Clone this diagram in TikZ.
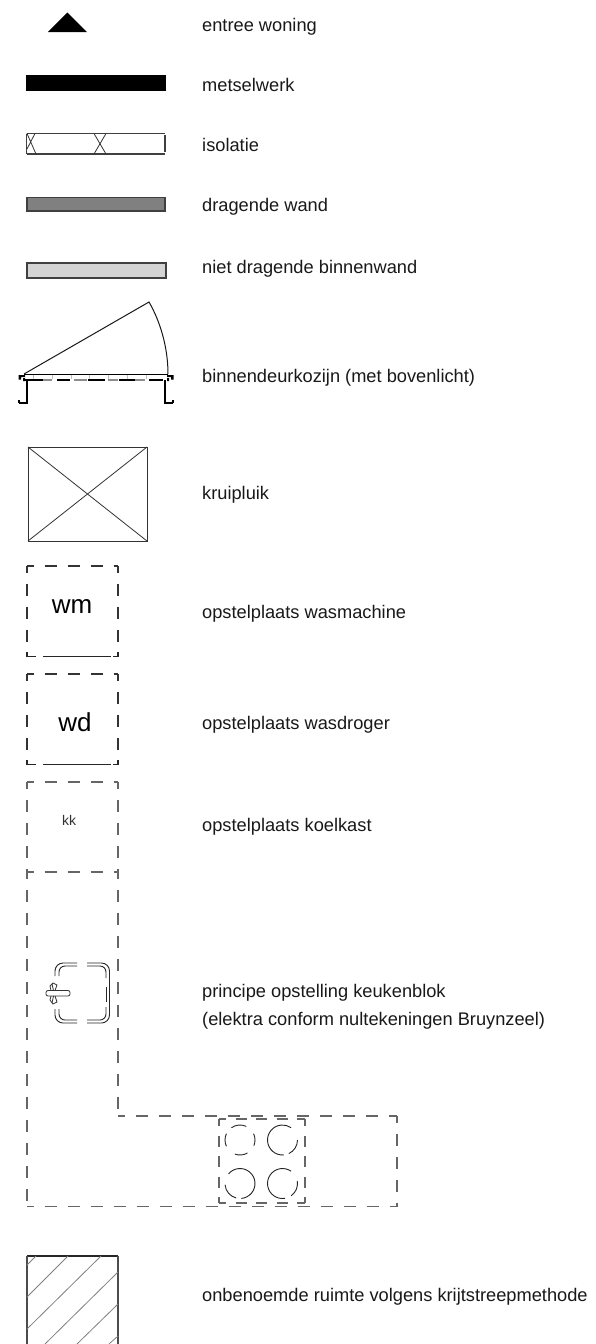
\documentclass[tikz,border=0pt]{standalone}
\usepackage{fontspec}
\setmainfont{Liberation Sans}
\tikzset{
  lbl/.style={anchor=base west,inner sep=0pt,font=\fontsize{18.25}{20}\selectfont,text=black!90},
  wall/.style={draw=black!75,line width=1.1pt},
  dsh/.style={draw=black!60,line width=1.2pt,dash pattern=on 12.5pt off 10.5pt,dash phase=5.5pt},
  dshdark/.style={draw=black!80,line width=1.2pt,dash pattern=on 12.5pt off 10.5pt,dash phase=5.5pt},
  hobdsh/.style={draw=black!60,line width=1.2pt,dash pattern=on 11pt off 9.5pt,dash phase=4pt},
  thin/.style={draw=black!80,line width=.8pt},
  sinkline/.style={draw=black!85,line width=.9pt,rounded corners=8pt},
  ring/.style={draw=black!85,line width=.9pt},
  hatch/.style={draw=black!50,line width=.8pt},
}
\begin{document}
\begin{tikzpicture}[x=1pt,y=-1pt]
\useasboundingbox (0,0) rectangle (595,1344);
\fill[white] (0,0) rectangle (595,1344);
% labels
\node[lbl] (t1) at (202,31) {entree woning};
\node[lbl] (t2) at (202,91) {metselwerk};
\node[lbl] (t3) at (202,151) {isolatie};
\node[lbl] (t4) at (202,211) {dragende wand};
\node[lbl] (t5) at (202,273) {niet dragende binnenwand};
\node[lbl] (t6) at (202,382) {binnendeurkozijn (met bovenlicht)};
\node[lbl] (t7) at (202,499) {kruipluik};
\node[lbl] (t8) at (202,618) {opstelplaats wasmachine};
\node[lbl] (t9) at (202,729) {opstelplaats wasdroger};
\node[lbl] (t10) at (202,831) {opstelplaats koelkast};
\node[lbl] (t11) at (202,997) {principe opstelling keukenblok};
\node[lbl] (t12) at (202,1025) {(elektra conform nultekeningen Bruynzeel)};
\node[lbl] (t13) at (202,1301) {onbenoemde ruimte volgens krijtstreepmethode};
% symbols
\fill[black] (48,32) -- (67.3,12.5) -- (87,32) -- cycle;
\fill[black] (26,75) rectangle (166,91);
\draw[wall] (26.5,133.5) -- (165,133.5) (26.5,154) -- (165,154) (26.5,133.5) -- (26.5,154) (165,135) -- (165,152);
\draw[thin] (94,154) -- (106,133.5) (94,133.5) -- (106,154) (27,133.5) -- (36,154) (35,133.5) -- (27,149);
\draw[wall,fill=black!50] (27,197.5) rectangle (165,211);
\draw[wall,fill=black!17] (27,263) rectangle (166,278);
% door
\draw[line width=1pt,draw=black!90] (24,374) -- (149,302) .. controls (160,321) and (168,347) .. (168,374);
\draw[line width=1pt,draw=black] (24,374) -- (168,374);
\foreach \x in {33,52,71,89,108,127,146} \draw[draw=black!25,line width=.6pt] (\x,375) -- (\x,379);
\draw[draw=black,line width=1.5pt] (25,380) -- (43,380) (57,380) -- (70,380) (88,380) -- (105,380) (119,380) -- (135,380) (149,380) -- (163,380);
\draw[draw=black!45,line width=1.5pt] (43,380) -- (52,380) (74,380) -- (87,380) (108,380) -- (118,380) (135,380) -- (145,380);
\draw[line width=1.3pt] (27,380) -- (27,403) -- (19,403) (19,400) -- (19,403);
\draw[line width=1.3pt] (165,380) -- (165,403) -- (173,403) (173,400) -- (173,403);
\fill[black] (18.5,375) rectangle (25,377) (18.5,375) rectangle (21,379.5) (23,378) rectangle (25,381);
\fill[black] (167,375) rectangle (173.5,377) (171,375) rectangle (173.5,379.5) (167,378) rectangle (169,381);
% hatch
\draw[thin] (28,447) rectangle (147,541);
\draw[thin] (28,447) -- (147,541) (28,541) -- (147,447);
% wm wd kk
\draw[dshdark] (27,566) -- (118,566) (27,566) -- (27,656) (118,566) -- (118,656);
\draw[line width=1.3pt,black!85] (27,652) -- (27,656.5) -- (36,656.5) (43,656.5) -- (111,656.5) (113,656.5) -- (118,656.5) -- (118,652);
\node[inner sep=0pt,font=\fontsize{26}{28}\selectfont] (wm) at (72,606) {wm};
\draw[dshdark] (27,674) -- (118,674) (27,674) -- (27,764) (118,674) -- (118,764);
\draw[line width=1.3pt,black!85] (27,760) -- (27,764.5) -- (36,764.5) (43,764.5) -- (111,764.5) (113,764.5) -- (118,764.5) -- (118,760);
\node[inner sep=0pt,font=\fontsize{26}{28}\selectfont] (wd) at (75,722) {wd};
\draw[dsh] (27,782) -- (118,782) (27,782) -- (27,872) (118,782) -- (118,872);
\node[inner sep=0pt,font=\fontsize{14}{16}\selectfont,text=black!80] (kk) at (69,820) {kk};
% L-shaped kitchen
\draw[dsh] (27,872) -- (118,872) (27,872) -- (27,1206.5) (118,872) -- (118,1116) (118,1116) -- (397,1116) (397,1116) -- (397,1206.5) (27,1206.5) -- (397,1206.5);
% hob
\draw[hobdsh] (219,1119) -- (305,1119) (219,1119) -- (219,1203) (305,1119) -- (305,1203) (219,1203) -- (305,1203);
\draw[ring] ([shift={(240,1140)}]-25:15) arc[start angle=-25,end angle=22,radius=15];
\draw[ring] ([shift={(240,1140)}]60:15) arc[start angle=60,end angle=110,radius=15];
\draw[ring] ([shift={(240,1140)}]155:15) arc[start angle=155,end angle=205,radius=15];
\draw[ring] ([shift={(240,1140)}]235:15) arc[start angle=235,end angle=295,radius=15];
\draw[ring] ([shift={(282.5,1140)}]85:15) arc[start angle=85,end angle=305,radius=15];
\draw[ring] ([shift={(282.5,1140)}]0:15) arc[start angle=0,end angle=65,radius=15];
\draw[ring] ([shift={(240,1183.5)}]220:15) arc[start angle=220,end angle=445,radius=15];
\draw[ring] ([shift={(240,1183.5)}]105:15) arc[start angle=105,end angle=175,radius=15];
\draw[ring] ([shift={(282.5,1183.5)}]80:15) arc[start angle=80,end angle=305,radius=15];
\draw[ring] ([shift={(282.5,1183.5)}]-10:15) arc[start angle=-10,end angle=55,radius=15];
% sink
\draw[sinkline] (77,963) -- (55,963) -- (55,976);
\draw[sinkline,rounded corners=6pt] (77,966) -- (59,966) -- (59,976);
\draw[sinkline] (87,963) -- (109.5,963) -- (109.5,1023) -- (87,1023);
\draw[sinkline,rounded corners=6pt] (87,966) -- (106,966) -- (106,978);
\draw[sinkline] (106,987) -- (106,1002);
\draw[sinkline,rounded corners=6pt] (106,1007) -- (106,1020) -- (87,1020);
\draw[sinkline] (77,1023) -- (55,1023) -- (55,1009);
\draw[sinkline,rounded corners=6pt] (77,1020) -- (59,1020) -- (59,1009);
\draw[thin,rounded corners=2pt] (46,990.5) -- (70,990.5) -- (70,996) -- (46,996) -- cycle;
\draw[thin] (50,986) -- (53,983) -- (57,985) -- (55,990.5) (55,996) -- (57,1002) -- (53,1004) -- (50,1000) -- (51,996) (51,990.5) -- (50,986);
\draw[thin] (52,984) -- (53.5,990.5) (53.5,996) -- (52,1003);
% chalk
\draw[line width=1.1pt,black!85] (27,1256) -- (118,1256);
\draw[line width=1.1pt,black!70] (27,1256) -- (27,1344) (118,1256) -- (118,1344);
\draw[hatch] (27,1265) -- (36,1256) (27,1297) -- (68,1256) (27,1329) -- (101,1256) (45,1344) -- (118,1272) (77,1344) -- (118,1304) (109,1344) -- (118,1336);
\end{tikzpicture}
\end{document}
